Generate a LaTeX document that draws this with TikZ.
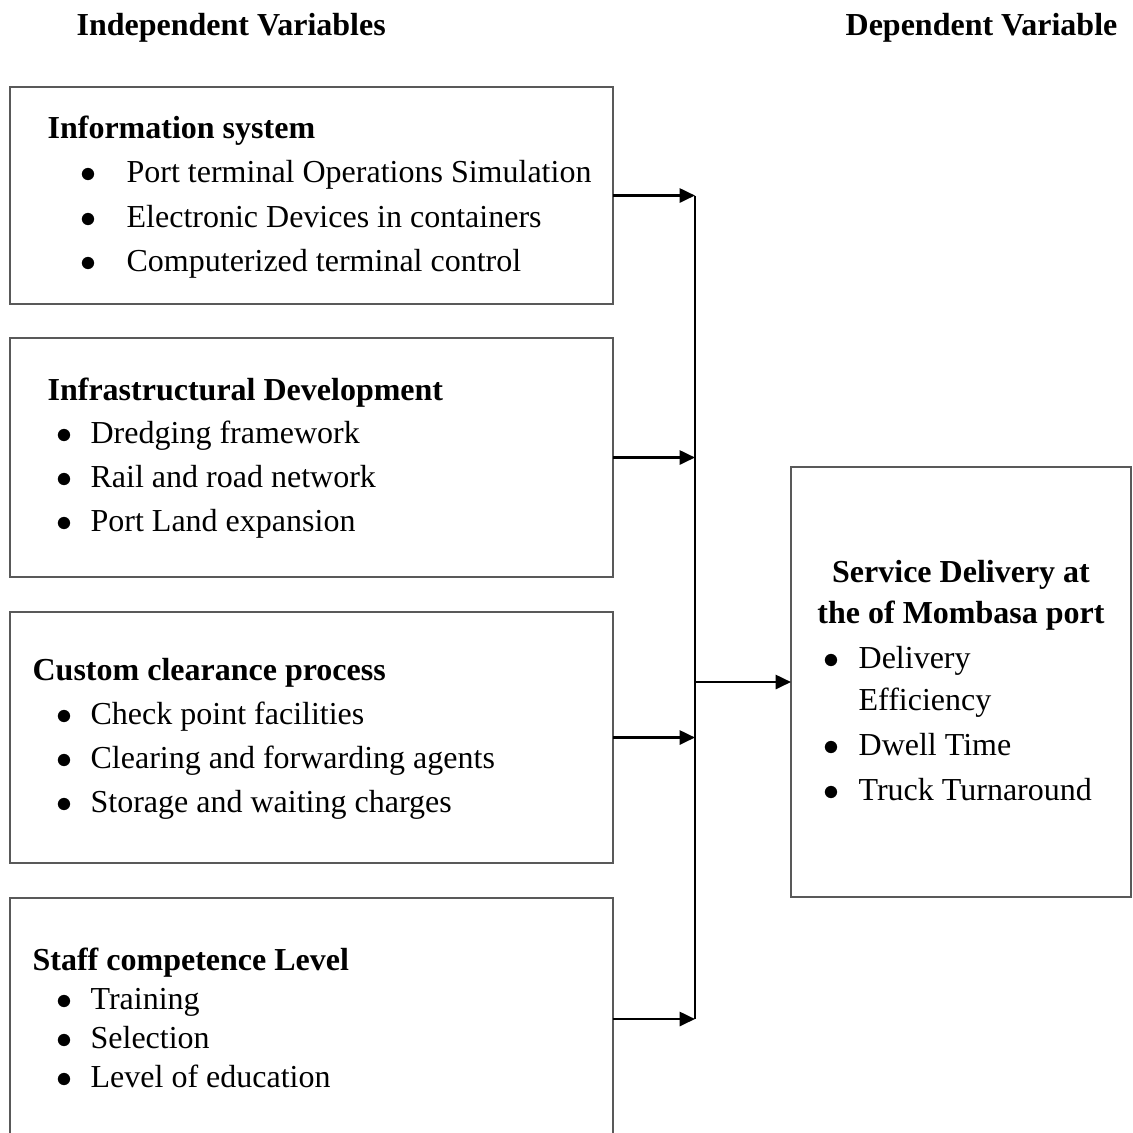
\documentclass[tikz,border=0pt]{standalone}
\usepackage{fontspec}
\setmainfont{Liberation Serif}
\usetikzlibrary{arrows.meta}
\newlength\pu
\setlength\pu{0.3125pt}
\newcommand\bul{$\bullet$}

\begin{document}
\begin{tikzpicture}[x=0.3125pt, y=-0.3125pt,
        varbox/.style={draw=black!65, line width=0.5pt, inner sep=0pt, outer sep=0pt},
        head/.style={font=\fontsize{10}{13.8}\selectfont\bfseries, inner sep=0pt, anchor=base west},
        entry/.style={font=\fontsize{10}{13.8}\selectfont, inner sep=0pt, anchor=base west},
        wire/.style={line width=0.8pt},
        link/.style={wire, -{Triangle[length=4.8pt, width=4.4pt]}}]
    \useasboundingbox (0,0) rectangle (1133,1132);

    % column titles
    \node[head] (indep) at (76,35) {Independent Variables};
    \node[head] (dep) at (845,35) {Dependent Variable};

    % independent variables
    \node[varbox, minimum width=603*\pu, minimum height=217*\pu] (info) at (311.5,195.5) {};
    \node[varbox, minimum width=603*\pu, minimum height=239*\pu] (infra) at (311.5,457.5) {};
    \node[varbox, minimum width=603*\pu, minimum height=251*\pu] (custom) at (311.5,737.5) {};
    \node[varbox, minimum width=603*\pu, minimum height=242*\pu] (staff) at (311.5,1019) {};

    \node[head] (infohead) at (47,138) {Information system};
    \foreach \t [count=\i] in {Port terminal Operations Simulation, Electronic Devices in containers, Computerized terminal control}
        \node[entry] (info-\i) at (80, 138+44.5*\i) {\makebox[46\pu][l]{\bul}\t};

    \node[head] (infrahead) at (47,400) {Infrastructural Development};
    \foreach \t [count=\i] in {Dredging framework, Rail and road network, Port Land expansion}
        \node[entry] (infra-\i) at (56, 400+43.7*\i) {\makebox[34\pu][l]{\bul}\t};

    \node[head] (customhead) at (32,680) {Custom clearance process};
    \foreach \t [count=\i] in {Check point facilities, Clearing and forwarding agents, Storage and waiting charges}
        \node[entry] (custom-\i) at (56, 680+44.3*\i) {\makebox[34\pu][l]{\bul}\t};

    \node[head] (staffhead) at (32,970) {Staff competence Level};
    \foreach \t [count=\i] in {Training, Selection, Level of education}
        \node[entry] (staff-\i) at (56, 970+39*\i) {\makebox[34\pu][l]{\bul}\t};

    % dependent variable
    \node[varbox, minimum width=340*\pu, minimum height=430*\pu] (service) at (961,682) {};
    \node[head, anchor=base] (servicehead1) at (961,582) {Service Delivery at};
    \node[head, anchor=base] (servicehead2) at (961,623) {the of Mombasa port};
    \node[entry] (service-1) at (823,668) {\makebox[35\pu][l]{\bul}Delivery};
    \node[entry] (service-1b) at (858,710) {Efficiency};
    \node[entry] (service-2) at (823,755) {\makebox[35\pu][l]{\bul}Dwell Time};
    \node[entry] (service-3) at (823,800) {\makebox[35\pu][l]{\bul}Truck Turnaround};

    % connectors
    \coordinate (bus) at (695,0);
    \foreach \b in {info,infra,custom,staff}
        \draw[link] (\b.east) -- (\b.east -| bus);
    \draw[wire] (info.east -| bus) -- (staff.east -| bus);
    \draw[link] (service.west -| bus) -- (service.west);
\end{tikzpicture}
\end{document}
